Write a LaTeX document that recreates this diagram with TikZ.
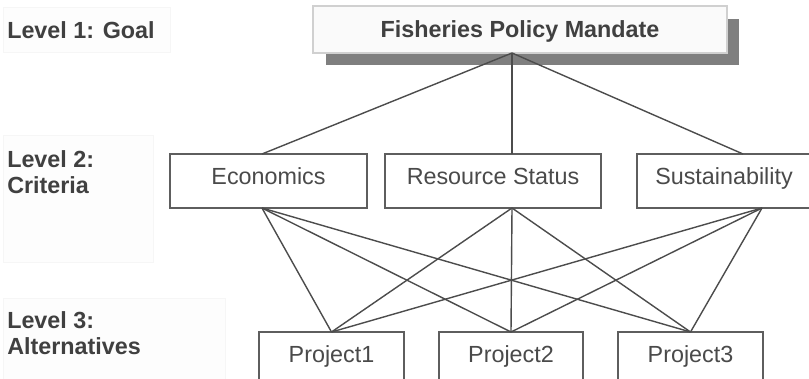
\documentclass[tikz,border=0pt]{standalone}
\usepackage{fontspec}
\setmainfont{Liberation Sans}
\newlength\pxu
\setlength\pxu{0.75pt}
\definecolor{txtcol}{HTML}{4A4A4A}
\definecolor{boldcol}{HTML}{404040}
\definecolor{edgecol}{HTML}{5E5E5E}
\definecolor{linecol}{HTML}{4C4C4C}
\definecolor{shadecol}{HTML}{7F7F7F}
\definecolor{goalfill}{HTML}{FAFAFA}
\definecolor{goaledge}{HTML}{D0D0D0}
\definecolor{labelfill}{HTML}{FDFDFD}
\definecolor{labeledge}{HTML}{F6F6F6}
\begin{document}
\begin{tikzpicture}[x=0.75pt,y=-0.75pt,
  basefont/.style={font=\fontsize{17.5}{19.75}\selectfont},
  critbox/.style={draw=edgecol, line width=1.1pt, fill=white, anchor=north west, inner sep=0pt, outer sep=0pt, basefont, text=txtcol, text height=12.5pt, text depth=6.75pt},
  projbox/.style={critbox, text depth=12.5pt},
  goalbox/.style={draw=goaledge, line width=0.8pt, fill=goalfill, anchor=north west, inner sep=0pt, outer sep=0pt, font=\fontsize{17.5}{19.75}\selectfont\bfseries, text=boldcol, text height=12.5pt, text depth=0.75pt},
  shadowbox/.style={fill=shadecol, anchor=north west, inner sep=0pt, outer sep=0pt},
  labelbg/.style={fill=labelfill, draw=labeledge, line width=0.5pt, anchor=north west, inner sep=0pt, outer sep=0pt},
  labeltext/.style={anchor=north west, inner sep=0pt, align=left, font=\fontsize{17.5}{19.75}\selectfont\bfseries, text=boldcol},
  link/.style={draw=linecol, line width=1.05pt}
]
\clip (0,0) rectangle (809,378);
\fill[white] (0,0) rectangle (809,378);

% level labels
\node[labelbg, minimum width=167\pxu, minimum height=45\pxu] (l1bg) at (3,7) {};
\node[labelbg, minimum width=150\pxu, minimum height=127\pxu] (l2bg) at (3,135) {};
\node[labelbg, minimum width=222\pxu, minimum height=90\pxu] (l3bg) at (3,298) {};
\node[labeltext] (l1) at (7,21.3) {Level 1: Goal};
\node[labeltext] (l2) at (7,150.3) {Level 2:\\Criteria};
\node[labeltext] (l3) at (7,311.3) {Level 3:\\Alternatives};

% goal
\node[shadowbox, minimum width=413\pxu, minimum height=46\pxu] (gshadow) at (326,19) {};
\node[goalbox, minimum width=414\pxu, minimum height=47\pxu] (goal) at (313,6) {Fisheries Policy Mandate};

% criteria
\node[critbox, minimum width=197\pxu, minimum height=54\pxu] (eco) at (170,154) {Economics};
\node[critbox, minimum width=216\pxu, minimum height=54\pxu] (res) at (385,154) {Resource Status};
\node[critbox, minimum width=174\pxu, minimum height=54\pxu] (sus) at (637,154) {Sustainability};

% alternatives
\node[projbox, minimum width=145\pxu, minimum height=60\pxu] (p1) at (259,332) {Project1};
\node[projbox, minimum width=144\pxu, minimum height=60\pxu] (p2) at (439,332) {Project2};
\node[projbox, minimum width=145\pxu, minimum height=60\pxu] (p3) at (618,332) {Project3};

% connectors
\draw[link] ([xshift=-8\pxu]goal.south) -- ([xshift=-6.5\pxu]eco.north);
\draw[link] ([xshift=-8\pxu]goal.south) -- ([xshift=19\pxu]res.north);
\draw[link] ([xshift=-8\pxu]goal.south) -- ([xshift=19\pxu]sus.north);
\foreach \c/\s in {eco/-6.5, res/19, sus/38}
  \foreach \p in {p1,p2,p3}
    \draw[link] ([xshift=\s\pxu]\c.south) -- (\p.north);
\end{tikzpicture}
\end{document}
